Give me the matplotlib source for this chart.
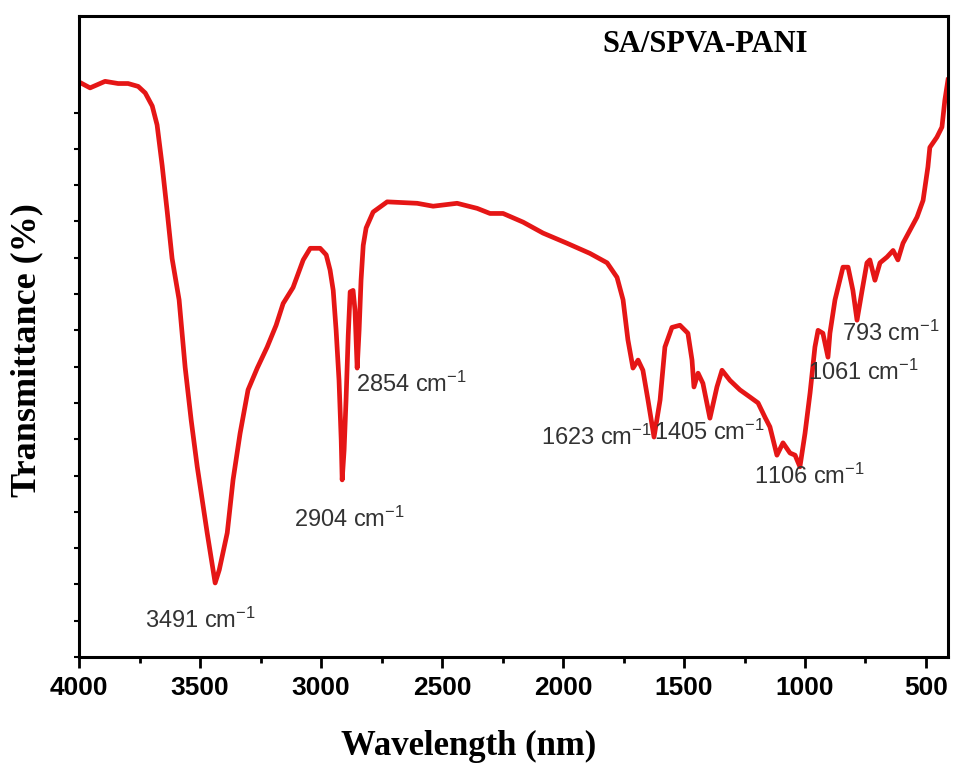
import numpy as np
import matplotlib
matplotlib.use('Agg')
import matplotlib.pyplot as plt
from matplotlib.ticker import MultipleLocator, NullFormatter, FixedLocator

plt.rcParams['mathtext.fontset'] = 'custom'
plt.rcParams['mathtext.rm'] = 'Liberation Sans'
plt.rcParams['mathtext.default'] = 'regular'

# FTIR spectrum (wavenumber, transmittance in arbitrary %)
wavenumber = [4000, 3955, 3893, 3839, 3798, 3756, 3727, 3698, 3678, 3657, 3636, 3616,
              3587, 3562, 3537, 3512, 3471, 3450, 3438, 3421, 3388, 3364, 3335, 3302,
              3264, 3223, 3186, 3157, 3116, 3074, 3045, 3004, 2979, 2963, 2950, 2938,
              2926, 2917, 2913, 2905, 2897, 2888, 2880, 2868, 2860, 2851, 2843, 2835,
              2826, 2814, 2785, 2727, 2603, 2537, 2438, 2355, 2302, 2248, 2165, 2083,
              1984, 1889, 1818, 1777, 1752, 1732, 1711, 1690, 1670, 1649, 1624, 1599,
              1579, 1550, 1517, 1484, 1467, 1459, 1442, 1422, 1393, 1364, 1343, 1310,
              1269, 1227, 1194, 1165, 1145, 1116, 1091, 1062, 1041, 1021, 1000, 979,
              959, 946, 926, 905, 897, 876, 843, 822, 802, 785, 764, 744, 732, 711,
              690, 661, 636, 616, 595, 566, 537, 512, 492, 484, 455, 434, 422, 409]
transmittance = [79.2, 78.4, 79.3, 79.0, 79.0, 78.6, 77.7, 75.9, 73.3, 67.7, 61.3, 54.9,
                 49.2, 39.9, 32.6, 26.2, 17.1, 12.7, 10.2, 12.0, 17.1, 24.4, 30.8, 36.8,
                 39.8, 42.7, 45.7, 48.7, 50.9, 54.7, 56.3, 56.3, 55.4, 53.3, 50.5, 45.0,
                 38.1, 29.9, 24.4, 28.5, 35.4, 44.3, 50.3, 50.5, 47.8, 39.8, 45.0, 51.9,
                 56.7, 59.1, 61.3, 62.7, 62.5, 62.1, 62.5, 61.8, 61.1, 61.1, 59.9, 58.4,
                 57.0, 55.6, 54.3, 52.3, 49.2, 43.7, 39.8, 40.9, 39.5, 35.4, 30.3, 35.4,
                 42.7, 45.4, 45.7, 44.6, 40.9, 37.2, 39.1, 37.7, 32.9, 37.2, 39.5, 38.1,
                 36.8, 35.8, 35.0, 33.0, 31.7, 27.8, 29.5, 28.1, 27.8, 26.2, 30.8, 36.4,
                 42.7, 45.0, 44.6, 41.3, 44.6, 49.2, 53.7, 53.7, 50.5, 46.4, 50.5, 54.3,
                 54.7, 51.9, 54.3, 55.1, 56.0, 54.7, 57.0, 58.8, 60.6, 62.9, 67.5, 70.2,
                 71.6, 73.0, 76.7, 79.5]

# peak labels and where they sit
peak_labels = ['3491', '2904', '2854', '1623', '1405', '1106', '1061', '793']
label_x = [3500, 2884, 2628, 1864, 1397, 980, 760, 645]
label_y = [5.1, 18.9, 37.5, 30.3, 31.0, 24.9, 39.2, 44.6]

fig = plt.figure(figsize=(9.54, 7.66), dpi=100)
ax = fig.add_axes([0.083, 0.1423, 0.9107, 0.8368])

ax.plot(wavenumber, transmittance, color='#e51616', lw=3.4, solid_joinstyle='round')

for lab, x, y in zip(peak_labels, label_x, label_y):
    ax.text(x, y, lab + r' cm$^{-1}$', ha='center', va='center', fontsize=17,
            family='Liberation Sans', color='#333333')

ax.text(0.72, 0.955, 'SA/SPVA-PANI', transform=ax.transAxes, ha='center', va='center',
        fontsize=22, fontweight='bold', family='Liberation Serif')

ax.set_xlim(4000, 409)
ax.set_ylim(0, 88.3)
ax.set_xticks(np.arange(4000, 400, -500))
ax.xaxis.set_minor_locator(MultipleLocator(250))
ax.yaxis.set_major_locator(FixedLocator(np.arange(0, 80, 5)))
ax.yaxis.set_major_formatter(NullFormatter())

for lab in ax.get_xticklabels():
    lab.set_fontfamily('Liberation Sans')
    lab.set_fontweight('bold')
    lab.set_fontsize(19)

ax.tick_params(axis='x', which='major', direction='out', length=8, width=2, pad=6)
ax.tick_params(axis='x', which='minor', direction='out', length=4.5, width=2)
ax.tick_params(axis='y', which='major', direction='out', length=3.5, width=1.5)
for sp in ax.spines.values():
    sp.set_linewidth(2.2)

ax.set_xlabel('Wavelength (nm)', fontsize=25, fontweight='bold',
              family='Liberation Serif')
ax.set_ylabel('Transmittance (%)', fontsize=26, fontweight='bold',
              family='Liberation Serif')
ax.xaxis.set_label_coords(0.448, -0.114)
ax.yaxis.set_label_coords(-0.041, 0.479)

fig.savefig('out.png', dpi=100)
